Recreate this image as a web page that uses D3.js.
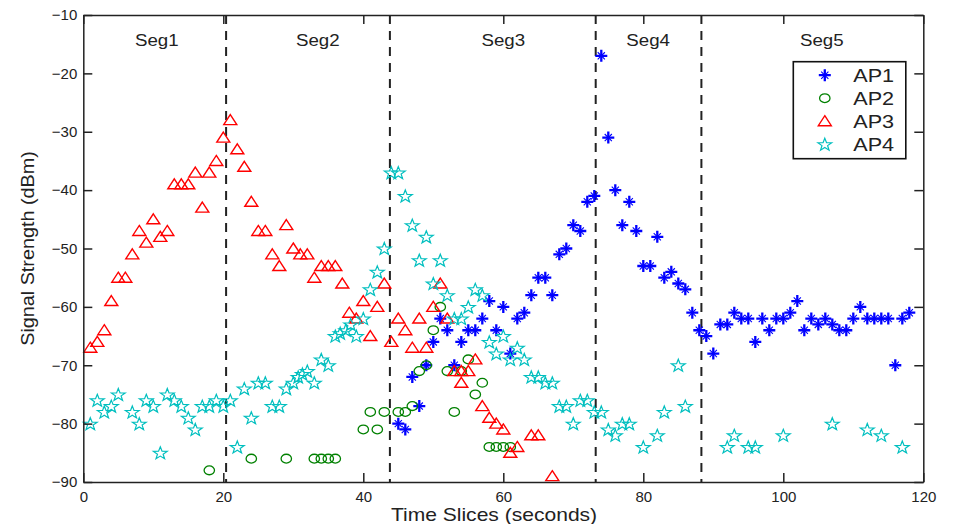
<!DOCTYPE html>
<html>
<head>
<meta charset="utf-8">
<script src="https://cdn.jsdelivr.net/npm/d3@7"></script>
<style>
    body { margin: 0; background: #fff; }
    svg text { font-family: "Liberation Sans", Arial, Helvetica, sans-serif; fill: #222; }
</style>
</head>
<body>
<div id="chart"></div>
<script>
// Time slice (s) / signal strength (dBm) pairs
const ap1 = [[45,-80],[46,-81],[47,-72],[48,-77],[49,-70],[50,-66],[51,-62],[52,-64],[53,-70],[54,-66],
    [55,-64],[56,-64],[57,-62],[58,-59],[59,-64],[60,-60],[61,-68],[62,-62],[63,-61],[64,-58],[65,-55],
    [66,-55],[67,-58],[68,-51],[69,-50],[70,-46],[71,-47],[72,-42],[73,-41],[74,-17],[75,-31],[76,-40],
    [77,-46],[78,-42],[79,-47],[80,-53],[81,-53],[82,-48],[83,-55],[84,-54],[85,-56],[86,-57],[87,-61],
    [88,-64],[89,-65],[90,-68],[91,-63],[92,-63],[93,-61],[94,-62],[95,-62],[96,-66],[97,-62],[98,-64],
    [99,-62],[100,-62],[101,-61],[102,-59],[103,-64],[104,-62],[105,-63],[106,-62],[107,-63],[108,-64],
    [109,-64],[110,-62],[111,-60],[112,-62],[113,-62],[114,-62],[115,-62],[116,-70],[117,-62],[118,-61]];

const ap2 = [[18,-88],[24,-86],[29,-86],[33,-86],[34,-86],[35,-86],[36,-86],[40,-81],[41,-78],[42,-81],
    [43,-78],[45,-78],[46,-78],[47,-77],[48,-71],[49,-70],[50,-64],[51,-60],[52,-71],[53,-78],[54,-71],
    [55,-69],[56,-75],[57,-73],[58,-84],[59,-84],[60,-84],[61,-84]];

const ap3 = [[1,-67],[2,-66],[3,-64],[4,-59],[5,-55],[6,-55],[7,-51],[8,-47],[9,-49],[10,-45],[11,-48],
    [12,-47],[13,-39],[14,-39],[15,-39],[16,-37],[17,-43],[18,-37],[19,-35],[20,-31],[21,-28],[22,-33],
    [23,-36],[24,-42],[25,-47],[26,-47],[27,-51],[28,-53],[29,-46],[30,-50],[31,-51],[32,-51],[33,-55],
    [34,-53],[35,-53],[36,-53],[37,-56],[38,-61],[39,-62],[40,-59],[41,-65],[42,-60],[43,-56],[44,-66],
    [45,-62],[46,-64],[47,-67],[48,-62],[49,-67],[50,-60],[51,-56],[52,-62],[53,-71],[54,-73],[54,-71],
    [55,-71],[56,-69],[57,-77],[58,-79],[59,-80],[60,-81],[61,-85],[62,-84],[64,-82],[65,-82],[67,-89]];

const ap4 = [[1,-80],[2,-76],[3,-78],[4,-77],[5,-75],[7,-78],[8,-80],[9,-76],[10,-77],[11,-85],[12,-75],
    [13,-76],[14,-77],[15,-79],[16,-81],[17,-77],[18,-77],[19,-76],[20,-77],[21,-76],[22,-84],[23,-74],
    [24,-79],[25,-73],[26,-73],[27,-77],[28,-77],[29,-74],[30,-73],[30.7,-72],[31.3,-71.5],[32,-71],
    [33,-73],[34,-69],[35,-70],[36,-65],[36.7,-64.5],[37.5,-64],[38.2,-63],[39,-65],[40,-62],[41,-57],
    [42,-54],[43,-50],[44,-37],[45,-37],[46,-41],[47,-46],[48,-52],[49,-48],[50,-56],[51,-52],[52,-58],
    [53,-62],[54,-62],[55,-60],[56,-57],[57,-58],[58,-66],[59,-68],[60,-65],[61,-69],[62,-67],[63,-69],
    [64,-72],[65,-72],[66,-73],[67,-73],[68,-77],[69,-77],[70,-80],[71,-76],[72,-76],[73,-78],[74,-78],
    [75,-81],[76,-82],[77,-80],[78,-80],[80,-84],[82,-82],[83,-78],[85,-70],[86,-77],[92,-84],[93,-82],
    [95,-84],[96,-84],[100,-82],[107,-80],[112,-81],[114,-82],[117,-84]];

const seriesNames = ["AP1", "AP2", "AP3", "AP4"];
const seriesColors = ["#0000ff", "#008000", "#ff0000", "#00bfbf"];

// Segment boundaries and labels
const segBounds = [20.4, 43.8, 73.2, 88.3];
const segLabels = ["Seg1", "Seg2", "Seg3", "Seg4", "Seg5"];
const segCenters = [10.5, 33.5, 60, 80.7, 105.5];

const xTicks = [0, 20, 40, 60, 80, 100, 120];
const yTicks = [-90, -80, -70, -60, -50, -40, -30, -20, -10];

// Chart dimensions
const width = 955;
const height = 524;
const plotLeft = 83.3, plotRight = 923.3, plotTop = 15, plotBottom = 482;

const x = d3.scaleLinear().domain([0, 120]).range([plotLeft, plotRight]);
const y = d3.scaleLinear().domain([-90, -10]).range([plotBottom, plotTop]);

// Marker shapes (MATLAB style)
const starPath = (() => {
    const pts = [];
    for (let i = 0; i < 10; i++) {
        const a = (-90 + i * 36) * Math.PI / 180;
        const r = i % 2 ? 2.7 : 6.6;
        pts.push([r * Math.cos(a) * 1.1, r * Math.sin(a) + 0.6]);
    }
    return "M" + pts.map(p => p.join(",")).join("L") + "Z";
})();

function drawMarker(g, i, color) {
    if (i === 0) {
        // bold plus with thin diagonals
        g.append("path").attr("d", "M-6,0H6M0,-6V6")
            .attr("stroke", color).attr("stroke-width", 2.3);
        g.append("path").attr("d", "M-3.6,-3.6L3.6,3.6M-3.6,3.6L3.6,-3.6")
            .attr("stroke", color).attr("stroke-width", 1.1);
    } else if (i === 1) {
        g.append("ellipse").attr("rx", 5.2).attr("ry", 4.4)
            .attr("fill", "none").attr("stroke", color).attr("stroke-width", 1.3);
    } else if (i === 2) {
        g.append("path").attr("d", "M0,-5.5L6.5,4.5L-6.5,4.5Z")
            .attr("fill", "none").attr("stroke", color).attr("stroke-width", 1.4);
    } else {
        g.append("path").attr("d", starPath)
            .attr("fill", "none").attr("stroke", color).attr("stroke-width", 1.2);
    }
}

const svg = d3.create("svg")
    .attr("width", width)
    .attr("height", height)
    .attr("viewBox", [0, 0, width, height]);

svg.append("rect").attr("width", width).attr("height", height).attr("fill", "#fff");

// Segment separators
svg.append("g")
    .selectAll("line")
    .data(segBounds)
    .join("line")
    .attr("x1", d => x(d)).attr("x2", d => x(d))
    .attr("y1", y(-10)).attr("y2", y(-90))
    .attr("stroke", "#222")
    .attr("stroke-width", 2)
    .attr("stroke-dasharray", "9,7");

svg.append("g")
    .selectAll("text")
    .data(segLabels)
    .join("text")
    .attr("transform", (d, i) => `translate(${x(segCenters[i])},46) scale(1.1,1)`)
    .attr("text-anchor", "middle")
    .attr("font-size", 17)
    .text(d => d);

// Scatter series
[ap1, ap2, ap3, ap4].forEach((series, i) => {
    const g = svg.append("g");
    series.forEach(([t, s]) => {
        const mg = g.append("g").attr("transform", `translate(${x(t)},${y(s)})`);
        drawMarker(mg, i, seriesColors[i]);
    });
});

// Axes with inward ticks on all four sides
const axisStyle = g => {
    g.selectAll("path, line").attr("stroke", "#222").attr("stroke-width", 1.5);
    g.selectAll("text").attr("font-size", 15).attr("fill", "#222");
};

svg.append("g")
    .attr("transform", `translate(0,${plotBottom})`)
    .call(d3.axisBottom(x).tickValues(xTicks).tickSize(-9).tickSizeOuter(0).tickPadding(9))
    .call(axisStyle);

svg.append("g")
    .attr("transform", `translate(0,${plotTop})`)
    .call(d3.axisTop(x).tickValues(xTicks).tickFormat("").tickSize(-9).tickSizeOuter(0))
    .call(axisStyle);

svg.append("g")
    .attr("transform", `translate(${plotLeft},0)`)
    .call(d3.axisLeft(y).tickValues(yTicks).tickSize(-9).tickSizeOuter(0).tickPadding(6))
    .call(axisStyle);

svg.append("g")
    .attr("transform", `translate(${plotRight},0)`)
    .call(d3.axisRight(y).tickValues(yTicks).tickFormat("").tickSize(-9).tickSizeOuter(0))
    .call(axisStyle);

svg.selectAll(".domain").attr("fill", "none");

// Axis titles
svg.append("text")
    .attr("transform", "translate(494,521) scale(1.17,1)")
    .attr("text-anchor", "middle")
    .attr("font-size", 18)
    .text("Time Slices (seconds)");

svg.append("text")
    .attr("transform", `translate(34,${(plotTop + plotBottom) / 2}) rotate(-90) scale(1.1,1)`)
    .attr("text-anchor", "middle")
    .attr("font-size", 18)
    .text("Signal Strength (dBm)");

// Legend
const legend = svg.append("g").attr("transform", "translate(793.3,61.7)");

legend.append("rect")
    .attr("width", 112.5)
    .attr("height", 97)
    .attr("fill", "#fff")
    .attr("stroke", "#111")
    .attr("stroke-width", 1.6);

seriesNames.forEach((name, i) => {
    const row = legend.append("g").attr("transform", `translate(0, ${13.5 + i * 23})`);
    const mg = row.append("g").attr("transform", "translate(31.5,0)");
    drawMarker(mg, i, seriesColors[i]);
    row.append("text")
        .attr("transform", "translate(60,0) scale(1.2,1)")
        .attr("dy", "0.35em")
        .attr("font-size", 18)
        .text(name);
});

document.querySelector("#chart").appendChild(svg.node());
</script>
</body>
</html>
